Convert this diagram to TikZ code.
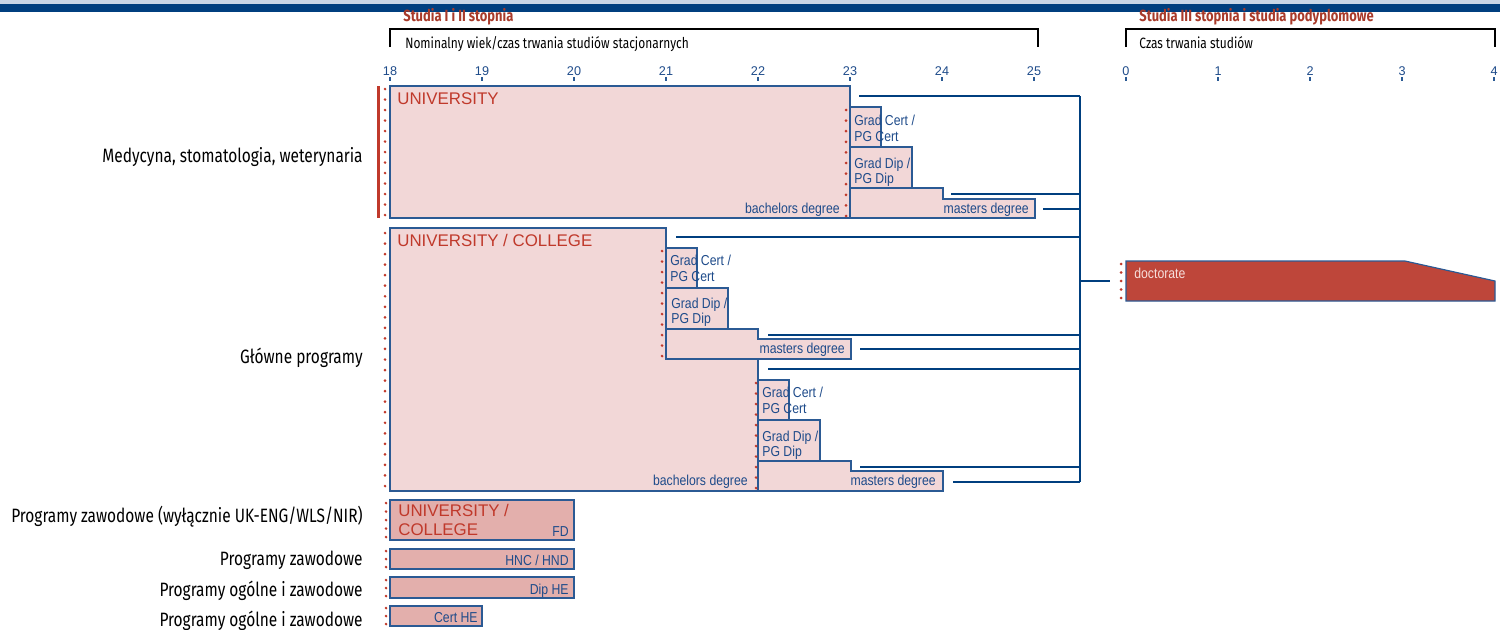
\documentclass[tikz,border=0pt]{standalone}
\usepackage{fontspec}
\setmainfont{Liberation Sans}
\newfontfamily\narrowfont[FakeStretch=0.85]{Liberation Sans}
\newfontfamily\labelfont[FakeStretch=0.8]{Fira Sans}
\usetikzlibrary{positioning}
\definecolor{navy}{HTML}{003F7F}
\definecolor{lightbar}{HTML}{C9D6E6}
\definecolor{boxline}{HTML}{2B5A94}
\definecolor{boxtext}{HTML}{1E4B8A}
\definecolor{uniRed}{HTML}{C0392B}
\definecolor{headred}{HTML}{A83A2A}
\definecolor{pinkfill}{HTML}{F2D7D7}
\definecolor{darkpink}{HTML}{E3AFAC}
\definecolor{docred}{HTML}{BE463A}
\definecolor{doctext}{HTML}{F6DEDB}
\tikzset{
  progbox/.style={draw=boxline, fill=pinkfill, line width=0.65pt},
  shortbox/.style={draw=boxline, fill=darkpink, line width=0.65pt},
  docbox/.style={draw=boxline, fill=docred, line width=0.65pt},
  busline/.style={draw=navy, line width=1.3pt},
  bracket/.style={draw=black, line width=1.1pt},
  tickmark/.style={draw=boxline, line width=0.6pt},
  unitext/.style={text=uniRed, font=\fontsize{9.6}{11.3}\selectfont, inner sep=0pt, align=left},
  degtext/.style={text=boxtext, font=\narrowfont\fontsize{8.2}{8.8}\selectfont, inner sep=0pt},
  certtext/.style={degtext, align=left, anchor=north west},
  rowlabel/.style={font=\labelfont\fontsize{11}{13}\selectfont, anchor=east, inner sep=0pt},
  axislabel/.style={text=boxtext, font=\fontsize{7.2}{8}\selectfont, anchor=base, inner sep=0pt},
  headtext/.style={text=headred, font=\labelfont\bfseries\fontsize{9.2}{10}\selectfont, anchor=base west, inner sep=0pt},
  subtext/.style={font=\labelfont\fontsize{8.5}{10}\selectfont, anchor=base west, inner sep=0pt},
}
% column of red dots: x, y from, y to, number of gaps
\newcommand{\dotcol}[4]{%
  \foreach \k in {0,...,#4} \fill[uniRed] (#1,{#2+\k*(#3-#2)/#4}) circle[radius=0.85pt];}

\begin{document}
\begin{tikzpicture}[x=0.02cm, y=-0.02cm]
  \useasboundingbox (0,0) rectangle (1500,629);
  \fill[lightbar] (0,0) rectangle (1500,4);
  \fill[navy] (0,4) rectangle (1500,12);

  % headings and scales
  \node[headtext] (head1) at (403,21.5) {Studia I i II stopnia};
  \node[headtext] (head2) at (1139,21.5) {Studia III stopnia i studia podyplomowe};
  \draw[bracket] (390,47) |- (1038,29) -- (1038,47);
  \draw[bracket] (1126,47) |- (1495,29) -- (1495,47);
  \node[subtext] (sub1) at (405,48.3) {Nominalny wiek/czas trwania studiów stacjonarnych};
  \node[subtext] (sub2) at (1139,48.3) {Czas trwania studiów};
  \foreach \a [count=\i from 0] in {18,...,25} {
    \draw[tickmark] ({390+92*\i},77) -- ++(0,4);
    \node[axislabel] (age\a) at ({390+92*\i},75.7) {\a};
  }
  \foreach \a in {0,...,4} {
    \draw[tickmark] ({1126+92*\a},77) -- ++(0,4);
    \node[axislabel] (yr\a) at ({1126+92*\a},75.7) {\a};
  }

  % row labels
  \node[rowlabel] (med) at (363,157) {Medycyna, stomatologia, weterynaria};
  \node[rowlabel] (main) at (363,358) {Główne programy};
  \node[rowlabel] (voc1) at (363,517) {Programy zawodowe (wyłącznie UK-ENG/WLS/NIR)};
  \node[rowlabel] (voc2) at (363,560) {Programy zawodowe};
  \node[rowlabel] (gen1) at (363,591) {Programy ogólne i zawodowe};
  \node[rowlabel] (gen2) at (363,621) {Programy ogólne i zawodowe};

  % medicine
  \fill[uniRed] (376.5,86) rectangle (380,218);
  \dotcol{385}{89}{215}{12}
  \draw[progbox] (390,86) rectangle (850,218);
  \draw[progbox] (850,107) rectangle (881,147);
  \draw[progbox] (850,147) rectangle (912,188);
  \draw[progbox] (850,188) -- (943,188) -- (943,199) -- (1035,199) -- (1035,218) -- (850,218) -- cycle;
  \dotcol{846}{110}{216}{10}
  \node[unitext, anchor=base west] (uni1) at (397,104) {UNIVERSITY};
  \node[certtext] (cert1) at (854,115) {Grad Cert /\\PG Cert};
  \node[certtext] (dip1) at (854,157.7) {Grad Dip /\\PG Dip};
  \node[degtext, anchor=base east] (bach1) at (840,213) {bachelors degree};
  \node[degtext, anchor=base east] (mast1) at (1029,213) {masters degree};

  % main programmes
  \dotcol{385}{233}{486}{24}
  \draw[progbox] (390,228) -- (666,228) -- (666,359) -- (758,359) -- (758,491) -- (390,491) -- cycle;
  \draw[progbox] (666,248) rectangle (697,288);
  \draw[progbox] (666,288) rectangle (728,329);
  \draw[progbox] (666,329) -- (758,329) -- (758,339) -- (851,339) -- (851,359) -- (666,359) -- cycle;
  \dotcol{662}{251}{356}{10}
  \draw[progbox] (758,380) rectangle (789,420);
  \draw[progbox] (758,420) rectangle (820,461);
  \draw[progbox] (758,461) -- (851,461) -- (851,471) -- (943,471) -- (943,491) -- (758,491) -- cycle;
  \dotcol{756}{383}{488}{10}
  \node[unitext, anchor=base west] (uni2) at (397,246) {UNIVERSITY / COLLEGE};
  \node[certtext] (cert2) at (670,255) {Grad Cert /\\PG Cert};
  \node[certtext] (dip2) at (671,297.4) {Grad Dip /\\PG Dip};
  \node[degtext, anchor=base east] (mast2) at (845,353) {masters degree};
  \node[certtext] (cert3) at (762,387) {Grad Cert /\\PG Cert};
  \node[certtext] (dip3) at (762,430.4) {Grad Dip /\\PG Dip};
  \node[degtext, anchor=base east] (bach2) at (748,485) {bachelors degree};
  \node[degtext, anchor=base east] (mast3) at (936,485) {masters degree};

  % doctorate
  \dotcol{1121}{264}{298}{4}
  \draw[docbox] (1126,261) -- (1405,261) -- (1495,281) -- (1495,301) -- (1126,301) -- cycle;
  \node[degtext, text=doctext, anchor=base west] (doc) at (1134,278) {doctorate};

  % short programmes
  \dotcol{386}{503}{537}{4}
  \draw[shortbox] (390,500) rectangle (574,540);
  \node[unitext, anchor=north west] (uni3) at (398,503.5) {UNIVERSITY /\\COLLEGE};
  \node[degtext, anchor=base east] (fd) at (569,536) {FD};
  \dotcol{386}{551}{567}{2}
  \draw[shortbox] (390,549) rectangle (574,569);
  \node[degtext, anchor=base east] (hnc) at (569,565) {HNC / HND};
  \dotcol{386}{580}{596}{2}
  \draw[shortbox] (390,577) rectangle (574,598);
  \node[degtext, anchor=base east] (diphe) at (569,594) {Dip HE};
  \dotcol{386}{608}{624}{2}
  \draw[shortbox] (390,606) rectangle (482,626);
  \node[degtext, anchor=base east] (certhe) at (478,622) {Cert HE};

  % links to doctorate
  \coordinate (bus) at (1080,96);
  \coordinate (busend) at (1080,482);
  \draw[busline] (bus) -- (busend);
  \foreach \n/\xx/\yy in {l1/859/96, l2/951/194, l3/1043/209, l4/676/237, l5/768/335,
                          l6/860/349, l7/768/369, l8/860/467, l9/953/482} {
    \coordinate (\n) at (\xx,\yy);
    \draw[busline] (\n) -- (\n -| bus);
  }
  \coordinate (docin) at (1110,281);
  \draw[busline] (docin -| bus) -- (docin);
\end{tikzpicture}
\end{document}
